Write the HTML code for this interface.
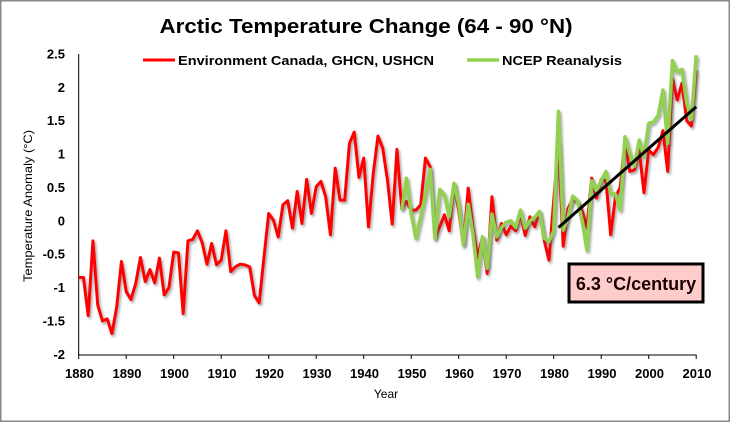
<!DOCTYPE html>
<html>
<head>
<meta charset="utf-8">
<style>
html,body{margin:0;padding:0;background:#fff;}
svg{display:block;}
text{font-family:"Liberation Sans",Arial,sans-serif;}
</style>
</head>
<body>
<svg width="732" height="423" viewBox="0 0 732 423" xmlns="http://www.w3.org/2000/svg">
<defs>
<filter id="sh" x="-5%" y="-5%" width="110%" height="115%">
<feDropShadow dx="1.5" dy="2" stdDeviation="1.2" flood-color="#555" flood-opacity="0.55"/>
</filter>
</defs>
<rect x="0" y="0" width="732" height="423" fill="#fff"/>
<rect x="0.75" y="0.75" width="728.5" height="420.5" fill="none" stroke="#888" stroke-width="1.5"/>

<text x="366" y="33" font-size="20" font-weight="bold" text-anchor="middle" textLength="413" lengthAdjust="spacingAndGlyphs">Arctic Temperature Change (64 - 90 °N)</text>

<!-- legend -->
<line x1="143" y1="60" x2="175" y2="60" stroke="#ff0000" stroke-width="3"/>
<text x="178" y="65" font-size="13" font-weight="bold" textLength="256" lengthAdjust="spacingAndGlyphs">Environment Canada, GHCN, USHCN</text>
<line x1="467" y1="60" x2="499" y2="60" stroke="#92d050" stroke-width="3.5"/>
<text x="502" y="65" font-size="13" font-weight="bold" textLength="120" lengthAdjust="spacingAndGlyphs">NCEP Reanalysis</text>

<!-- axes -->
<line x1="78.7" y1="54" x2="78.7" y2="355.5" stroke="#000" stroke-width="1"/>
<line x1="78.2" y1="355" x2="696.5" y2="355" stroke="#000" stroke-width="1"/>
<g stroke="#000" stroke-width="1">
<line x1="78.7" y1="355" x2="78.7" y2="359"/>
<line x1="126.2" y1="355" x2="126.2" y2="359"/>
<line x1="173.7" y1="355" x2="173.7" y2="359"/>
<line x1="221.2" y1="355" x2="221.2" y2="359"/>
<line x1="268.7" y1="355" x2="268.7" y2="359"/>
<line x1="316.2" y1="355" x2="316.2" y2="359"/>
<line x1="363.7" y1="355" x2="363.7" y2="359"/>
<line x1="411.2" y1="355" x2="411.2" y2="359"/>
<line x1="458.7" y1="355" x2="458.7" y2="359"/>
<line x1="506.2" y1="355" x2="506.2" y2="359"/>
<line x1="553.7" y1="355" x2="553.7" y2="359"/>
<line x1="601.2" y1="355" x2="601.2" y2="359"/>
<line x1="648.7" y1="355" x2="648.7" y2="359"/>
<line x1="696.2" y1="355" x2="696.2" y2="359"/>
</g>

<!-- y labels -->
<g font-size="13" font-weight="bold" text-anchor="end">
<text x="65" y="58.5">2.5</text>
<text x="65" y="91.8">2</text>
<text x="65" y="125.2">1.5</text>
<text x="65" y="158.6">1</text>
<text x="65" y="191.9">0.5</text>
<text x="65" y="225.3">0</text>
<text x="65" y="258.7">-0.5</text>
<text x="65" y="292.1">-1</text>
<text x="65" y="325.4">-1.5</text>
<text x="65" y="358.8">-2</text>
</g>

<!-- x labels -->
<g font-size="13" font-weight="bold" text-anchor="middle">
<text x="79.5" y="378">1880</text>
<text x="127" y="378">1890</text>
<text x="174.5" y="378">1900</text>
<text x="222" y="378">1910</text>
<text x="269.5" y="378">1920</text>
<text x="317" y="378">1930</text>
<text x="364.5" y="378">1940</text>
<text x="412" y="378">1950</text>
<text x="459.5" y="378">1960</text>
<text x="507" y="378">1970</text>
<text x="554.5" y="378">1980</text>
<text x="602" y="378">1990</text>
<text x="649.5" y="378">2000</text>
<text x="697" y="378">2010</text>
</g>

<text x="386" y="398" font-size="12" text-anchor="middle">Year</text>
<text transform="translate(32,206) rotate(-90)" font-size="12" text-anchor="middle" textLength="152" lengthAdjust="spacingAndGlyphs">Temperature Anomaly (°C)</text>

<!-- red series -->
<g filter="url(#sh)">
<g transform="translate(78.7,220.8) scale(4.75,-66.75)">
<polyline fill="none" stroke="#ff0000" stroke-width="3" vector-effect="non-scaling-stroke" stroke-linejoin="round" points="0,-0.85 1,-0.85 2,-1.42 3,-0.30 4,-1.26 5,-1.50 6,-1.47 7,-1.69 8,-1.29 9,-0.61 10,-1.06 11,-1.18 12,-0.94 13,-0.55 14,-0.91 15,-0.73 16,-0.93 17,-0.56 18,-1.11 19,-1.00 20,-0.47 21,-0.48 22,-1.39 23,-0.30 24,-0.28 25,-0.15 26,-0.33 27,-0.65 28,-0.34 29,-0.66 30,-0.59 31,-0.15 32,-0.76 33,-0.69 34,-0.65 35,-0.66 36,-0.69 37,-1.12 38,-1.23 39,-0.55 40,0.11 41,0.01 42,-0.24 43,0.24 44,0.30 45,-0.11 46,0.44 47,-0.04 48,0.62 49,0.11 50,0.51 51,0.59 52,0.36 53,-0.21 54,0.79 55,0.31 56,0.31 57,1.16 58,1.33 59,0.65 60,0.94 61,-0.09 62,0.70 63,1.27 64,1.09 65,0.61 66,-0.05 67,1.07 68,0.19 69,0.29 70,0.16 71,0.16 72,0.24 73,0.94 74,0.81 75,-0.26 76,-0.09 77,0.09 78,-0.15 79,0.56 80,0.15 81,-0.36 82,0.49 83,-0.10 84,-0.55 85,-0.24 86,-0.79 87,0.36 88,-0.29 89,-0.04 90,-0.21 91,-0.08 92,-0.15 93,0.10 94,-0.22 95,0.06 96,-0.09 97,0.14 98,-0.29 99,-0.59 100,0.30 101,1.15 102,-0.38 103,0.18 104,0.33 105,0.29 106,0.15 107,-0.10 108,0.64 109,0.34 110,0.62 111,0.60 112,-0.21 113,0.36 114,0.50 115,1.20 116,0.74 117,0.76 118,1.06 119,0.42 120,1.06 121,0.99 122,1.10 123,1.35 124,0.74 125,2.13 126,1.81 127,2.06 128,1.50 129,1.42 130,2.26"/>
</g>
</g>

<!-- green series -->
<g filter="url(#sh)">
<g transform="translate(78.7,220.8) scale(4.75,-66.75)">
<polyline fill="none" stroke="#92d050" stroke-width="3.5" vector-effect="non-scaling-stroke" stroke-linejoin="round" points="68,0.16 69,0.64 70,0.11 71,-0.26 72,0.06 73,0.40 74,0.77 75,-0.26 76,0.47 77,0.39 78,0.06 79,0.56 80,0.25 81,-0.36 82,0.25 83,-0.20 84,-0.84 85,-0.24 86,-0.71 87,0.10 88,-0.24 89,-0.10 90,-0.02 91,0.00 92,-0.10 93,0.16 94,-0.11 95,0.00 96,0.05 97,0.14 98,-0.26 99,-0.31 100,-0.15 101,1.64 102,-0.14 103,0.05 104,0.37 105,0.30 106,0.00 107,-0.44 108,0.60 109,0.45 110,0.60 111,0.74 112,0.41 113,0.40 114,0.16 115,1.26 116,1.01 117,0.82 118,1.21 119,0.96 120,1.46 121,1.48 122,1.58 123,1.96 124,1.16 125,2.40 126,2.23 127,2.27 128,1.76 129,1.52 130,2.48"/>
</g>
</g>

<!-- trend line -->
<line x1="558.5" y1="227.5" x2="696.2" y2="106.7" stroke="#000" stroke-width="3"/>

<!-- annotation box -->
<rect x="569" y="264" width="134" height="38" fill="#ffcccc" stroke="#000" stroke-width="3"/>
<text x="636" y="290" font-size="18" font-weight="bold" text-anchor="middle" fill="#1a0000">6.3 °C/century</text>
</svg>
</body>
</html>
